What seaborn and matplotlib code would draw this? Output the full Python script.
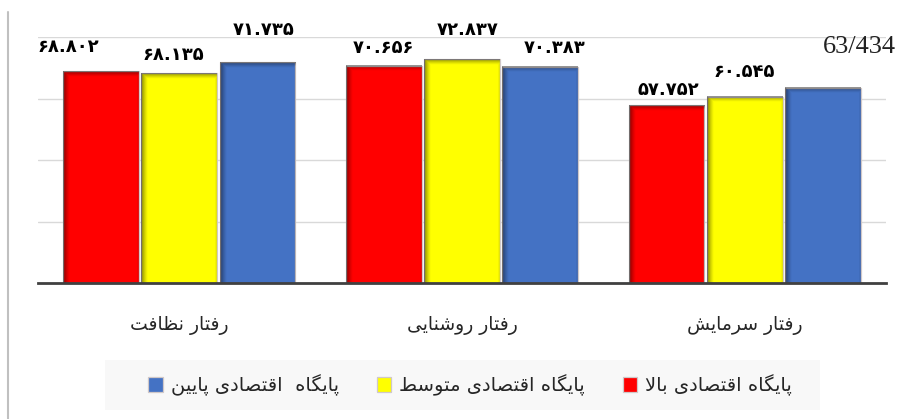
import matplotlib
matplotlib.use("Agg")
import matplotlib.pyplot as plt
from matplotlib.lines import Line2D
from matplotlib.patches import Rectangle
import seaborn as sns
import pandas as pd
import numpy as np

# ---------------- data ----------------
categories = ["رفتار نظافت", "رفتار روشنایی", "رفتار سرمایش"]
series_names = ["پایگاه اقتصادی بالا", "پایگاه اقتصادی متوسط", "پایگاه  اقتصادی پایین"]
high_values = [68.802, 70.656, 57.752]
mid_values = [68.135, 72.837, 60.545]
low_values = [71.735, 70.383, 63.434]
stray_label = "63/434"

colors = ["#FF0000", "#FFFF00", "#4472C4"]

# ---------------- simple Arabic-script shaper (matplotlib has no CTL) ----------------
FORMS = {
    'ا': ('\uFE8D', '\uFE8E', None, None),
    'آ': ('\uFE81', '\uFE82', None, None),
    'ب': ('\uFE8F', '\uFE90', '\uFE91', '\uFE92'),
    'پ': ('\uFB56', '\uFB57', '\uFB58', '\uFB59'),
    'ت': ('\uFE95', '\uFE96', '\uFE97', '\uFE98'),
    'ث': ('\uFE99', '\uFE9A', '\uFE9B', '\uFE9C'),
    'ج': ('\uFE9D', '\uFE9E', '\uFE9F', '\uFEA0'),
    'چ': ('\uFB7A', '\uFB7B', '\uFB7C', '\uFB7D'),
    'ح': ('\uFEA1', '\uFEA2', '\uFEA3', '\uFEA4'),
    'خ': ('\uFEA5', '\uFEA6', '\uFEA7', '\uFEA8'),
    'د': ('\uFEA9', '\uFEAA', None, None),
    'ذ': ('\uFEAB', '\uFEAC', None, None),
    'ر': ('\uFEAD', '\uFEAE', None, None),
    'ز': ('\uFEAF', '\uFEB0', None, None),
    'ژ': ('\uFB8A', '\uFB8B', None, None),
    'س': ('\uFEB1', '\uFEB2', '\uFEB3', '\uFEB4'),
    'ش': ('\uFEB5', '\uFEB6', '\uFEB7', '\uFEB8'),
    'ص': ('\uFEB9', '\uFEBA', '\uFEBB', '\uFEBC'),
    'ض': ('\uFEBD', '\uFEBE', '\uFEBF', '\uFEC0'),
    'ط': ('\uFEC1', '\uFEC2', '\uFEC3', '\uFEC4'),
    'ظ': ('\uFEC5', '\uFEC6', '\uFEC7', '\uFEC8'),
    'ع': ('\uFEC9', '\uFECA', '\uFECB', '\uFECC'),
    'غ': ('\uFECD', '\uFECE', '\uFECF', '\uFED0'),
    'ف': ('\uFED1', '\uFED2', '\uFED3', '\uFED4'),
    'ق': ('\uFED5', '\uFED6', '\uFED7', '\uFED8'),
    'ک': ('\uFB8E', '\uFB8F', '\uFB90', '\uFB91'),
    'گ': ('\uFB92', '\uFB93', '\uFB94', '\uFB95'),
    'ل': ('\uFEDD', '\uFEDE', '\uFEDF', '\uFEE0'),
    'م': ('\uFEE1', '\uFEE2', '\uFEE3', '\uFEE4'),
    'ن': ('\uFEE5', '\uFEE6', '\uFEE7', '\uFEE8'),
    'ه': ('\uFEE9', '\uFEEA', '\uFEEB', '\uFEEC'),
    'و': ('\uFEED', '\uFEEE', None, None),
    'ی': ('\uFBFC', '\uFBFD', '\uFBFE', '\uFBFF'),
    'ي': ('\uFEF1', '\uFEF2', '\uFEF3', '\uFEF4'),
}


def _joins_next(c):
    return c in FORMS and FORMS[c][2] is not None


def shape(s):
    res = []
    i, n = 0, len(s)
    while i < n:
        c = s[i]
        if c not in FORMS:
            res.append(c)
            i += 1
            continue
        prev_conn = i > 0 and _joins_next(s[i - 1])
        if c == 'ل' and i + 1 < n and s[i + 1] == 'ا':
            res.append('\uFEFC' if prev_conn else '\uFEFB')
            i += 2
            continue
        next_conn = _joins_next(c) and i + 1 < n and s[i + 1] in FORMS
        iso, fin, ini, med = FORMS[c]
        if prev_conn and next_conn:
            g = med
        elif prev_conn:
            g = fin
        elif next_conn:
            g = ini
        else:
            g = iso
        res.append(g)
        i += 1
    return ''.join(reversed(res))


def fa_digits(v):
    return "{:.3f}".format(v).translate(str.maketrans("0123456789", "۰۱۲۳۴۵۶۷۸۹"))


# ---------------- dataframe ----------------
rows = []
for name, vals in zip(series_names, [high_values, mid_values, low_values]):
    for cat, v in zip(categories, vals):
        rows.append({"cat": shape(cat), "series": shape(name), "value": v})
df = pd.DataFrame(rows)

sns.set_theme(style="white")
plt.rcParams['font.family'] = ['DejaVu Sans']

fig = plt.figure(figsize=(9.06, 4.19), dpi=100)
ax = fig.add_axes([38 / 906, 1 - 283 / 419, 848 / 906, (283 - 37) / 419])

sns.barplot(data=df, x="cat", y="value", hue="series",
            order=[shape(c) for c in categories],
            hue_order=[shape(s) for s in series_names],
            palette=colors, width=0.83, gap=0.03, saturation=1,
            edgecolor="#d0c8c8", linewidth=0.9, ax=ax, legend=True)

ax.set_ylim(0, 80)
ax.set_xlim(-0.5, 2.5)
ax.set_yticks([20, 40, 60, 80])
ax.set_yticklabels([])
ax.tick_params(axis='y', length=0)
ax.yaxis.grid(True, color="#d9d9d9", linewidth=1)
ax.set_axisbelow(True)
for side in ["left", "right", "top"]:
    ax.spines[side].set_visible(False)
ax.spines["bottom"].set_color("#404040")
ax.spines["bottom"].set_linewidth(2)
ax.spines["bottom"].set_zorder(5)
ax.set_xlabel("")
ax.set_ylabel("")
ax.tick_params(axis='x', length=0, pad=24, labelsize=13.5)

# bevel-like shading on each bar (darker left edge and top)
px_per_x = 848 / 3.0
px_per_y = 246 / 80.0
for cont in ax.containers:
    for bar in cont:
        x0, w, h = bar.get_x(), bar.get_width(), bar.get_height()
        wpx, hpx = max(int(w * px_per_x), 2), max(int(h * px_per_y), 2)
        xs = np.arange(wpx) + 0.5
        ys = np.arange(hpx) + 0.5
        left = np.clip(1 - xs / 7.0, 0, 1) ** 1.3 * 0.5
        right = np.clip(1 - (wpx - xs) / 2.5, 0, 1) * 0.12
        top = np.clip(1 - ys / 6.0, 0, 1) ** 1.3 * 0.45
        alpha = np.maximum(np.maximum(left[None, :], right[None, :]), top[:, None])
        rgba = np.zeros((hpx, wpx, 4))
        rgba[..., 3] = alpha
        ax.imshow(rgba, extent=(x0, x0 + w, 0, h), origin="upper",
                  aspect="auto", interpolation="bilinear", zorder=bar.get_zorder() + 0.1)
ax.set_xlim(-0.5, 2.5)
ax.set_ylim(0, 80)

# data labels (Persian digits), offsets in pixels
label_offsets = [
    [(-33, 24), (-6, 18), (6, 32)],
    [(0, 18), (6, 29), (14, 19)],
    [(2, 15), (0, 25), None],
]
all_vals = [high_values, mid_values, low_values]
for si, cont in enumerate(ax.containers):
    for ci, bar in enumerate(cont):
        off = label_offsets[ci][si]
        if off is None:
            continue
        x = bar.get_x() + bar.get_width() / 2
        y = bar.get_height()
        ax.annotate(fa_digits(all_vals[si][ci]), (x, y),
                    xytext=(off[0] * 0.72, off[1] * 0.72), textcoords="offset points",
                    ha="center", va="center", fontsize=13, fontweight="bold",
                    color="black", annotation_clip=False)

fig.text(859 / 906, 1 - 47 / 419, stray_label, ha="center", va="center",
         fontsize=19, family="Liberation Serif", color="#222222")

# legend background box
fig.add_artist(Rectangle((105 / 906, 1 - 410 / 419), 715 / 906, 50 / 419,
                         transform=fig.transFigure, facecolor="#f8f8f8",
                         edgecolor="none", zorder=0))

# legend (order blue, yellow, red left to right)
handles, labels = ax.get_legend_handles_labels()
ax.legend_.remove()
leg = fig.legend(handles[::-1], labels[::-1], loc="center",
                 bbox_to_anchor=(470 / 906, 1 - 385 / 419), ncol=3,
                 frameon=False, fontsize=14, handlelength=0.75, handleheight=0.75,
                 handletextpad=0.4, columnspacing=1.95, borderpad=0.5)

# left border line of the figure
fig.add_artist(Line2D([8 / 906, 8 / 906], [0, 1 - 12 / 419], color="#c0c0c0",
                      linewidth=1.5, transform=fig.transFigure))

fig.savefig("out.png", dpi=100)
